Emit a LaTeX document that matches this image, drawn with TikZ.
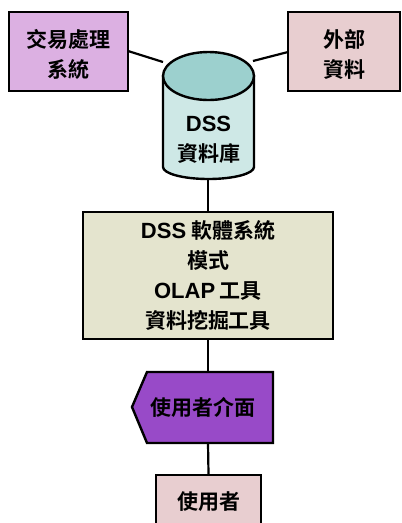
\documentclass[tikz,border=0pt]{standalone}
\usepackage{fontspec}
\setmainfont{Noto Sans CJK TC}[BoldFont={* Bold}]
\newfontfamily\latf{Liberation Sans}
\definecolor{tpsfill}{RGB}{220,176,226}
\definecolor{pinkfill}{RGB}{232,206,208}
\definecolor{cyltop}{RGB}{156,208,206}
\definecolor{cylbody}{RGB}{206,232,230}
\definecolor{mainfill}{RGB}{228,228,206}
\definecolor{uifill}{RGB}{152,74,200}
\tikzset{
  box/.style={draw=black, line width=2.4pt, align=center, inner sep=0pt,
    font=\fontsize{21}{31}\selectfont\bfseries},
  conn/.style={draw=black, line width=2.2pt},
  lbl/.style={align=center, inner sep=0pt, font=\fontsize{21}{30}\selectfont\bfseries}
}
\begin{document}
\begin{tikzpicture}[x=1pt,y=-1pt]
\useasboundingbox (0,0) rectangle (402,523);
% boxes
\node[box, fill=tpsfill, minimum width=119pt, minimum height=79pt] (tps) at (68.5,51.5) {};
\node[lbl] (tpst) at (68.5,54.5) {交易處理\\系統};
\node[box, fill=pinkfill, minimum width=112pt, minimum height=79pt] (ext) at (344,51.5) {};
\node[lbl] (extt) at (344,54.5) {外部\\資料};
% cylinder
\draw[line width=2.4pt, fill=cylbody] (163,76) -- (163,167) arc (180:0:45.5 and 12) -- (254,76) -- cycle;
\draw[line width=2.4pt, fill=cyltop] (208.5,76) ellipse (45.5 and 24);
\node[lbl] (db) at (208.5,140) {{\latf\bfseries\fontsize{22}{30}\selectfont DSS}\\資料庫};
\coordinate (dbl) at (163,62);
\coordinate (dbr) at (253,61);
\coordinate (dbb) at (208,180);
\coordinate (tpsr) at (128,51);
\coordinate (extl) at (288,52);
\draw[conn] (tpsr) -- (dbl);
\draw[conn] (dbr) -- (extl);
% main box
\node[box, fill=mainfill, minimum width=250pt, minimum height=127pt,
  font=\fontsize{21}{30}\selectfont\bfseries] (main) at (208,275.5)
  {{\latf\bfseries\fontsize{22}{30}\selectfont DSS} 軟體系統\\模式\\{\latf\bfseries\fontsize{22}{30}\selectfont OLAP} 工具\\資料挖掘工具};
\draw[conn] (dbb) -- (main.north);
% user interface
\draw[line width=2.4pt, fill=uifill] (132,407) -- (147,372) -- (273,372) -- (273,443) -- (147,443) -- cycle;
\node[lbl] (ui) at (203,407.5) {使用者介面};
\coordinate (uit) at (208,372);
\coordinate (uib) at (208,443);
\draw[conn] (main.south) -- (uit);
% user
\node[box, fill=pinkfill, minimum width=105pt, minimum height=50pt] (user) at (208.5,500) {};
\node[lbl] (usert) at (208.5,502) {使用者};
\draw[conn] (uib) -- (user.north);
\end{tikzpicture}
\end{document}
